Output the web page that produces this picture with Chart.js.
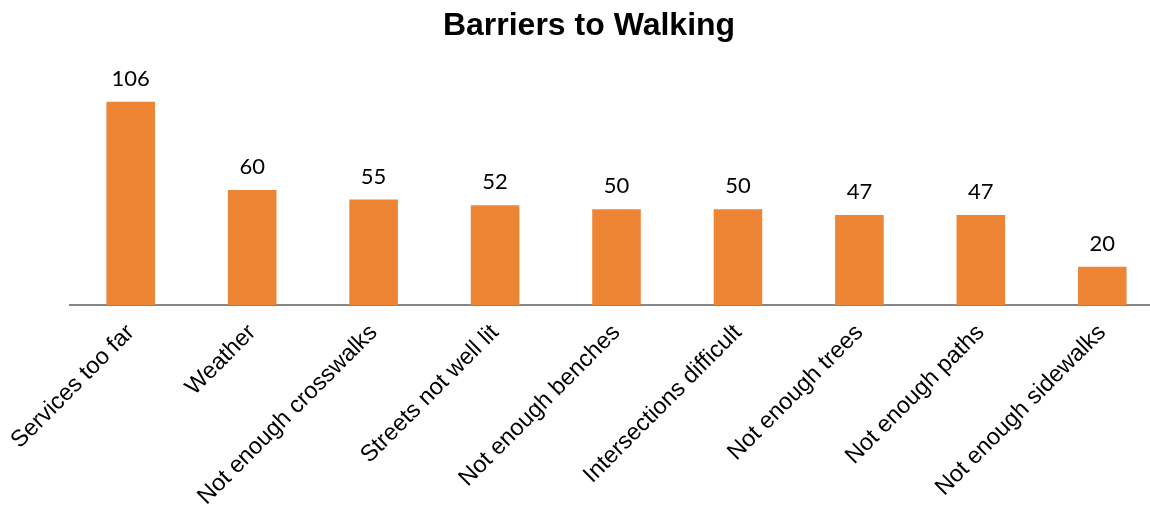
<!DOCTYPE html>
<html>
<head>
<meta charset="utf-8">
<script src="https://cdn.jsdelivr.net/npm/chart.js@4.4.0/dist/chart.umd.min.js"></script>
<style>
  html, body { margin: 0; padding: 0; background: #fff; overflow: hidden; }
  #wrap { width: 1163px; height: 507px; }
</style>
</head>
<body>
<div id="wrap"><canvas id="barriers-chart"></canvas></div>
<script>
// Barriers to Walking - survey counts
const categories = [
    'Services too far', 'Weather', 'Not enough crosswalks', 'Streets not well lit',
    'Not enough benches', 'Intersections difficult', 'Not enough trees',
    'Not enough paths', 'Not enough sidewalks'
];
const counts = [106, 60, 55, 52, 50, 50, 47, 47, 20];

// draws the value above each bar
const valueLabels = {
    id: 'valueLabels',
    afterDatasetsDraw(chart) {
        const ctx = chart.ctx;
        const meta = chart.getDatasetMeta(0);
        ctx.save();
        ctx.font = '22px Lato';
        ctx.fillStyle = '#000';
        ctx.textAlign = 'center';
        ctx.textBaseline = 'alphabetic';
        meta.data.forEach((bar, i) => {
            ctx.fillText(counts[i], bar.x, bar.y - 16);
        });
        ctx.restore();
    }
};

// title centred over the original picture, not the canvas
const chartTitle = {
    id: 'chartTitle',
    afterDraw(chart) {
        const ctx = chart.ctx;
        ctx.save();
        ctx.font = 'bold 32px "Liberation Sans", Arial';
        ctx.fillStyle = '#000';
        ctx.textAlign = 'center';
        ctx.textBaseline = 'middle';
        ctx.fillText('Barriers to Walking', 589, 26);
        ctx.restore();
    }
};

new Chart(document.getElementById('barriers-chart'), {
    type: 'bar',
    data: {
        labels: categories,
        datasets: [{
            data: counts,
            backgroundColor: '#ED8535',
            barPercentage: 0.4,
            categoryPercentage: 1.0
        }]
    },
    options: {
        responsive: true,
        maintainAspectRatio: false,
        animation: false,
        layout: { padding: { left: 70, top: 75, right: 0, bottom: 0 } },
        plugins: {
            legend: { display: false },
            tooltip: { enabled: false },
            title: { display: false }
        },
        scales: {
            x: {
                grid: { display: false },
                border: { display: true, color: '#868686', width: 2 },
                ticks: {
                    color: '#000',
                    font: { family: '"Liberation Sans", Arial', size: 23.5 },
                    minRotation: 45,
                    maxRotation: 45,
                    autoSkip: false,
                    padding: 6
                },
                afterFit(scale) { scale.height = 202; }
            },
            y: {
                display: false,
                min: 0,
                max: 120
            }
        }
    },
    plugins: [valueLabels, chartTitle]
});
</script>
</body>
</html>
